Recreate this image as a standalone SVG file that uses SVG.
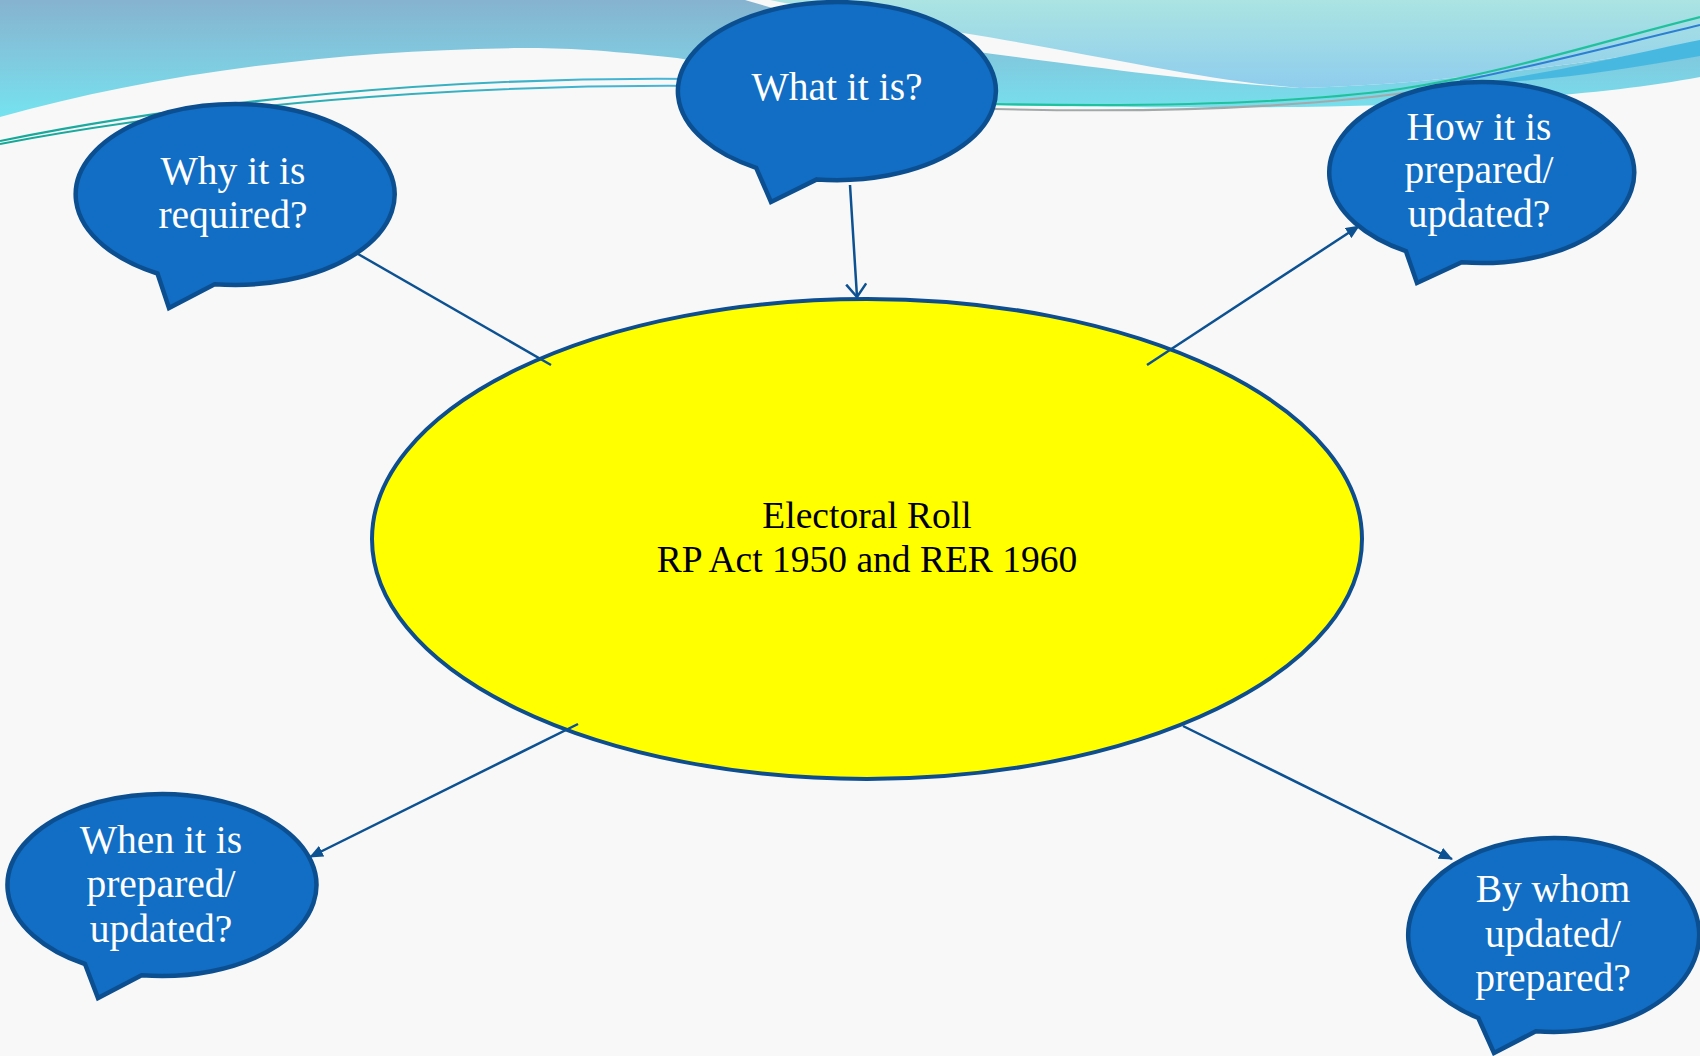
<svg xmlns="http://www.w3.org/2000/svg" width="1700" height="1056" viewBox="0 0 1700 1056">
  <defs>
    <linearGradient id="gLeft" x1="0" y1="0" x2="0" y2="120" gradientUnits="userSpaceOnUse">
      <stop offset="0" stop-color="#86b3cf"/>
      <stop offset="0.5" stop-color="#80cadf"/>
      <stop offset="1" stop-color="#74e4f0"/>
    </linearGradient>
    <linearGradient id="gRight" x1="0" y1="0" x2="0" y2="95" gradientUnits="userSpaceOnUse">
      <stop offset="0" stop-color="#abe4e2"/>
      <stop offset="1" stop-color="#8ccbee"/>
    </linearGradient>
    <linearGradient id="gTeal" x1="0" y1="0" x2="700" y2="0" gradientUnits="userSpaceOnUse">
      <stop offset="0" stop-color="#14a896"/>
      <stop offset="1" stop-color="#4ab6da"/>
    </linearGradient>
    <marker id="arrFill" viewBox="0 0 14 12" refX="13" refY="6" markerWidth="14" markerHeight="12" markerUnits="userSpaceOnUse" orient="auto">
      <path d="M0,0 L14,6 L0,12 Z" fill="#0c5191"/>
    </marker>
    <marker id="arrOpen" viewBox="0 0 16 22" refX="14" refY="11" markerWidth="16" markerHeight="22" markerUnits="userSpaceOnUse" orient="auto">
      <path d="M1,1 L14,11 L1,21" fill="none" stroke="#0c5191" stroke-width="2.5"/>
    </marker>
  </defs>
  <style>
    .bubble { fill: #116ec4; stroke: #0b4f91; stroke-width: 4.5; stroke-linejoin: miter; }
    .center { fill: #ffff00; stroke: #0e4d8e; stroke-width: 4; }
    .qtext { font-family: "Liberation Serif", "DejaVu Serif", serif; font-size: 39.5px; fill: #ffffff; text-anchor: middle; }
    .ctext { font-family: "Liberation Serif", "DejaVu Serif", serif; font-size: 37.5px; fill: #000000; text-anchor: middle; }
    .conn { stroke: #0c5191; stroke-width: 2.5; fill: none; }
  </style>

  <!-- background -->
  <rect x="0" y="0" width="1700" height="1056" fill="#f8f8f8"/>

  <!-- decorative banner -->
  <g id="banner">
    <path d="M0,0 L745,0 C820,22 900,40 963,50 C1100,68 1200,82 1300,88 C1450,84 1600,60 1700,45 L1700,77 C1600,96 1450,105 1300,107 C1150,108 1050,106 963,105 L677,58 C600,50 570,48 520,48 C330,50 150,75 0,117 Z" fill="url(#gLeft)"/>
    <path d="M770,0 L1700,0 L1700,45 C1600,60 1450,84 1300,88 C1200,80 1100,55 963,33 C880,20 820,10 770,0 Z" fill="url(#gRight)"/>
    <path d="M1470,84 C1560,72 1640,52 1700,40 L1700,56 C1620,70 1560,80 1470,84 Z" fill="#47b9e0"/>
    <path d="M0,141 C200,100 450,76 700,79" fill="none" stroke="url(#gTeal)" stroke-width="2.2"/>
    <path d="M0,144 C200,106 450,84 700,86" fill="none" stroke="url(#gTeal)" stroke-width="2"/>
    <path d="M995,104 C1150,107 1300,103 1400,89 C1500,74 1600,42 1700,17" fill="none" stroke="#1fc29c" stroke-width="2.2"/>
    <path d="M1460,81 C1550,63 1620,44 1700,25" fill="none" stroke="#2c7fd2" stroke-width="2"/>
    <path d="M995,109 C1150,113 1300,109 1433,89" fill="none" stroke="#a3a9a9" stroke-width="2"/>
  </g>

  <!-- central node -->
  <g id="node-center">
    <ellipse class="center" cx="867" cy="539" rx="495" ry="240"/>
    <text class="ctext" x="867" y="528">Electoral Roll</text>
    <text class="ctext" x="867" y="572">RP Act 1950 and RER 1960</text>
  </g>

  <!-- callout nodes -->
  <g id="node-why">
    <path class="bubble" d="M157.5,273.5 L169,308 L214.6,284.2 A159.5,90.5 0 1 0 157.5,273.5 Z"/>
    <text class="qtext" x="233" y="184">Why it is</text>
    <text class="qtext" x="233" y="228">required?</text>
  </g>

  <g id="node-what">
    <path class="bubble" d="M756.2,167.8 L771,202 L816.8,179.4 A159,89 0 1 0 756.2,167.8 Z"/>
    <text class="qtext" x="837" y="100">What it is?</text>
  </g>

  <g id="node-how">
    <path class="bubble" d="M1405.9,251.1 L1417,283 L1461.7,262.3 A152.5,90.5 0 1 0 1405.9,251.1 Z"/>
    <text class="qtext" x="1479" y="140">How it is</text>
    <text class="qtext" x="1479" y="183">prepared/</text>
    <text class="qtext" x="1479" y="227">updated?</text>
  </g>

  <g id="node-when">
    <path class="bubble" d="M85,964 L98,998 L141.6,975.3 A154.5,91 0 1 0 85,964 Z"/>
    <text class="qtext" x="161" y="853">When it is</text>
    <text class="qtext" x="161" y="897">prepared/</text>
    <text class="qtext" x="161" y="942">updated?</text>
  </g>

  <g id="node-bywhom">
    <path class="bubble" d="M1478.3,1018 L1494,1053 L1535.8,1031.3 A145.5,97 0 1 0 1478.3,1018 Z"/>
    <text class="qtext" x="1553" y="902">By whom</text>
    <text class="qtext" x="1553" y="947">updated/</text>
    <text class="qtext" x="1553" y="991">prepared?</text>
  </g>

  <!-- connectors -->
  <g id="connectors">
    <line class="conn" x1="358" y1="254" x2="551" y2="365"/>
    <line class="conn" x1="850" y1="185" x2="857" y2="297" marker-end="url(#arrOpen)"/>
    <line class="conn" x1="1147" y1="365" x2="1359" y2="226" marker-end="url(#arrFill)"/>
    <line class="conn" x1="578" y1="724" x2="310" y2="857" marker-end="url(#arrFill)"/>
    <line class="conn" x1="1183" y1="726" x2="1452" y2="859" marker-end="url(#arrFill)"/>
  </g>
</svg>
